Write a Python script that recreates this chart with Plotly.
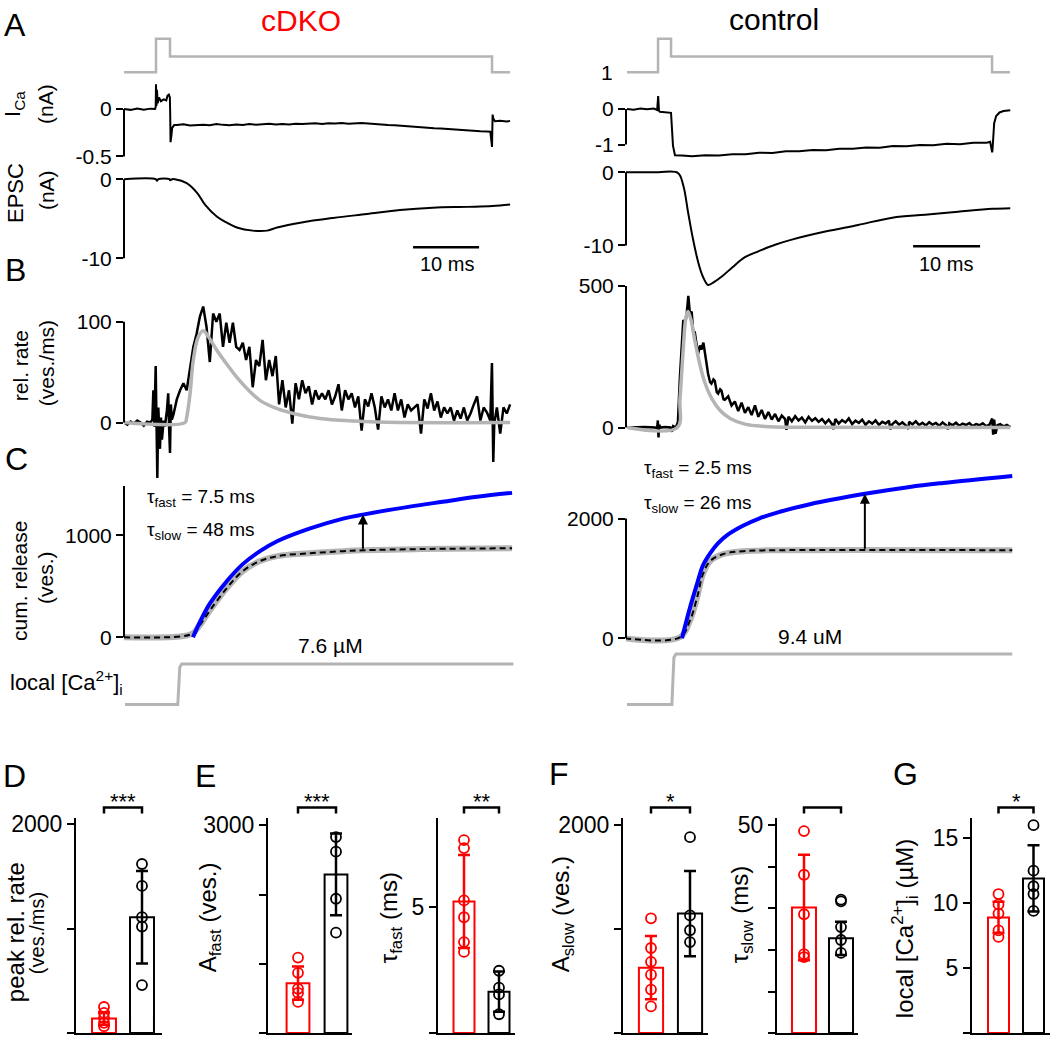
import plotly.graph_objects as go

W, H = 1050, 1046
FONT = "Liberation Sans, Arial, Helvetica, sans-serif"
RED = "#ff0000"
GRAY = "#b4b4b4"
BLUE = "#0000ff"
BLACK = "#000000"

# ---------------- data ----------------
# stimulus waveforms (arbitrary units)
stim_t_L = [0, 4.85, 4.85, 6.97, 6.97, 55.76, 55.76, 58.5]
stim_v_L = [0, 0, 1, 1, 0.47, 0.47, 0, 0]
stim_t_R = [0.3, 4.93, 4.93, 6.87, 6.87, 54.78, 54.78, 57.46]
stim_v_R = [0, 0, 1, 1, 0.47, 0.47, 0, 0]

# I_Ca (nA)
ica_t_L = ([0, 1, 2, 3, 4, 4.7, 4.8, 4.85, 4.92, 5.0, 5.1, 5.3, 5.6, 6.0, 6.4, 6.6, 6.8, 6.95, 7.0, 7.05, 7.15, 7.3, 7.6]
           + [8, 9, 10, 11, 12, 13, 14, 15, 16, 17, 18, 19, 20, 21, 22, 23, 24, 25, 26, 27, 28, 29, 30, 31,
              32, 33, 34, 35, 36, 37, 38, 39, 40, 41, 42, 43, 44, 45, 46, 47, 48, 49, 50, 51, 52, 53, 54, 55]
           + [55.5, 55.76, 55.85, 55.95, 56.2, 57, 58, 58.5])
ica_v_L = ([0, -0.01, 0.005, -0.008, 0.003, 0, 0.02, 0.26, 0.03, 0.2, 0.06, 0.12, 0.08, 0.1, 0.09, 0.14, 0.15, 0.12, -0.05, -0.35, -0.3, -0.2, -0.17]
           + [-0.17, -0.162, -0.175, -0.168, -0.166, -0.172, -0.16, -0.168, -0.171, -0.163,
              -0.169, -0.158, -0.166, -0.161, -0.157, -0.165, -0.159, -0.163, -0.155, -0.16,
              -0.157, -0.152, -0.158, -0.15, -0.154, -0.149, -0.155, -0.151, -0.147, -0.153,
              -0.16, -0.164, -0.17, -0.172, -0.178, -0.183, -0.186, -0.193, -0.196, -0.203,
              -0.205, -0.211, -0.216, -0.219, -0.225, -0.229, -0.236, -0.238]
           + [-0.24, -0.40, -0.06, -0.10, -0.13, -0.125, -0.133, -0.126])
ica_t_R = [0.3, 1.3, 2.3, 3.3, 4.3, 4.8, 4.95, 5.07, 5.2, 6.0, 6.87, 7.16, 7.46, 8.5, 10, 12, 14, 16, 18, 20,
           22, 24, 26, 28, 30, 32, 34, 36, 38, 40, 42, 44, 46, 48, 50, 52, 54, 54.5, 54.8, 54.85,
           54.95, 55.1, 55.4, 55.9, 56.5, 57.5]
ica_v_R = [0, -0.02, 0.01, -0.01, 0.01, -0.03, 0.36, -0.05, -0.08, -0.09, -0.11, -1.03, -1.3, -1.31, -1.33,
           -1.3, -1.31, -1.27, -1.27, -1.23, -1.24, -1.19, -1.19, -1.15, -1.16, -1.12, -1.12, -1.08, -1.09,
           -1.04, -1.05, -1.01, -1.02, -0.98, -0.99, -0.95, -0.95, -0.92, -1.22, -1.15, -0.7, -0.4, -0.2,
           -0.1, -0.06, -0.04]

# EPSC (nA)
epsc_t_L = [0, 4.8, 5.0, 5.2, 6.9, 7.0, 7.3, 7.7, 9.5, 11.1, 12.3, 14.1, 15.6, 17.1, 19.5, 21.7, 23.2,
            26.7, 31.7, 36.8, 41.8, 46.8, 52.0, 55.8, 58.5]
epsc_v_L = [0, 0, -0.2, 0, 0, -0.15, 0, 0, -0.5, -1.75, -3.25, -4.75, -5.5, -6.1, -6.5, -6.5, -6.1,
            -5.5, -4.9, -4.4, -3.9, -3.6, -3.5, -3.4, -3.2]
epsc_t_R = [0, 4.9, 7.9, 8.7, 9.4, 10.1, 10.9, 11.6, 12.4, 13.1, 14.5, 16.0, 17.9, 19.9, 22.4, 24.9,
            29.9, 34.8, 39.9, 44.8, 49.7, 54.8, 57.5]
epsc_v_R = [0, 0, -0.1, -1.8, -5.4, -8.9, -12.2, -14.2, -15.4, -15.1, -14.2, -13.0, -11.6, -10.8, -9.9,
            -9.2, -8.1, -7.2, -6.2, -5.8, -5.4, -5.0, -4.9]

# release rate (ves./ms)
rate_t_L = ([0, 0.5, 1.0, 1.5, 2.0, 2.5, 3.0, 3.5, 4.0, 4.3, 4.45, 4.6, 4.8, 4.95, 5.05, 5.2, 5.45, 5.6,
             5.75, 6.0, 6.2, 6.5, 6.7, 6.85, 6.97, 7.1, 7.25]
            + [7.5, 8.0, 8.5, 9.0, 9.5, 10.0, 10.5, 11.0, 11.5, 12.0,
               12.5, 13.0, 13.5, 14.0, 14.5, 15.0, 15.5, 16.0, 16.5, 17.0,
               17.5, 18.0, 18.5, 19.0, 19.5, 20.0, 20.5, 21.0, 21.5, 22.0,
               22.5, 23.0, 23.5, 24.0, 24.5, 25.0, 25.5, 26.0, 26.5, 27.0,
               27.5, 28.0, 28.5, 29.0, 29.5, 30.0, 30.5, 31.0, 31.5, 32.0,
               32.5, 33.0, 33.5, 34.0, 34.5, 35.0, 35.5, 36.0, 36.5, 37.0,
               37.5, 38.0, 38.5, 39.0, 39.5, 40.0, 40.5, 41.0, 41.5, 42.0,
               42.5, 43.0, 43.5, 44.0, 44.5, 45.0, 45.5, 46.0, 46.5, 47.0,
               47.5, 48.0, 48.5, 49.0, 49.5, 50.0, 50.5, 51.0, 51.5, 52.0,
               52.5, 53.0, 53.5, 54.0, 54.5, 55.0, 55.5]
            + [55.75, 55.95, 56.1, 56.5, 57.0, 57.5, 58.0, 58.5])
rate_v_L = ([0, -2, 1, -1, 2, 0, -3, 1, 0, 3, 32, -4, 56, 8, -55, 15, -26, 5, -17, 2, -4, 12, 29, -8, -30, 18, 3]
            + [8, 23, 32, 39, 32, 52, 75, 88, 105, 115,
               95, 60, 108, 100, 108, 75, 99, 79, 99, 75,
               72, 79, 62, 75, 35, 62, 56, 82, 42, 62,
               46, 66, 18, 42, 15, 32, -1, 39, 23, 42,
               29, 36, 18, 32, 23, 29, 23, 32, 18, 26,
               38, 12, 32, 23, 29, 15, 26, -8, 23, 16,
               29, 15, -7, 26, 15, 23, 12, 29, 12, 23,
               5, 18, 12, 15, 18, -11, 23, 14, 29, 12,
               21, 5, 15, 9, 15, 2, 12, 4, 15, 2,
               9, 18, 26, 2, 15, 10, 2]
            + [59, -39, -1, 15, -11, 15, 9, 18])
fit_t_L = [0, 9.24, 9.49, 10.0, 10.5, 11.26, 12.02, 12.78, 14.04, 15.56, 17.07, 18.59, 20.6, 23.1, 25.66,
           29.7, 34.8, 39.8, 58.5]
fit_v_L = [0, 0, 5, 28, 62, 85, 91, 85, 72, 58, 45, 34, 22, 14, 9, 4, 1.5, 0.3, 0]

rate_t_R = ([0.3, 1.5, 3.0, 4.5, 4.8, 4.9, 5.0, 5.1, 5.3, 6.0, 6.8, 7.0, 7.2, 7.6, 7.9, 8.2, 8.5, 8.7, 9.0,
             9.2, 9.45, 9.7, 9.95, 10.2, 10.4, 10.7, 10.9, 11.2, 11.4, 11.7, 11.9, 12.2, 12.4, 12.7, 12.9,
             13.2, 13.4, 13.7, 13.9, 14.2, 14.4, 14.7, 14.9]
            + [15.4, 15.9, 16.4, 16.9, 17.4, 17.9, 18.4, 18.9, 19.4, 19.9,
               20.4, 20.9, 21.4, 21.9, 22.4, 22.9, 23.4, 23.9, 24.1, 24.4,
               24.9, 25.4, 25.9, 26.4, 26.9, 27.4, 27.9, 28.4, 28.9, 29.4,
               29.9, 30.4, 30.9, 31.1, 31.4, 31.9, 32.4, 32.9, 33.4, 33.9,
               34.4, 34.9, 35.4, 35.9, 36.4, 36.9, 37.4, 37.9, 38.4, 38.9,
               39.4, 39.6, 39.9, 40.4, 40.9, 41.4, 41.9, 42.3, 42.4, 42.9,
               43.4, 43.9, 44.4, 44.9, 45.4, 45.9, 46.4, 46.9, 47.4, 47.9,
               48.2, 48.4, 48.9, 49.4, 49.9, 50.4, 50.9, 51.4, 51.9, 52.4,
               52.9, 53.4, 53.9, 54.4, 54.8, 54.95, 55.1, 55.3, 55.6, 56.0,
               56.5, 57.0, 57.5])
rate_v_R = ([0, 1, 2, 0, -2, 25, -35, 10, 0, 2, 0, -15, 5, 0, 20, 180, 330, 380, 370, 400, 465, 400, 410,
             330, 340, 280, 260, 290, 275, 300, 270, 210, 190, 160, 155, 170, 165, 125, 120, 135, 130, 100, 98]
            + [110, 78, 92, 58, 88, 52, 72, 44, 78, 38,
               62, 30, 55, 28, 48, 22, 42, 30, -8, 38,
               22, 40, 25, 35, 18, 38, 24, 33, 20, 30,
               15, 28, 12, -6, 30, 14, 26, 18, 32, 12,
               24, 16, 28, 10, 22, 14, 25, 9, 20, 14,
               24, -6, 12, 22, 10, 18, 8, -5, 20, 11,
               22, 9, 17, 7, 19, 10, 16, 6, 18, 9,
               -6, 15, 8, 17, 6, 14, 9, 16, 5, 12,
               8, 15, 5, 10, 32, -25, 28, -22, 8, 12,
               4, 9, 2])
fit_t_R = [0.3, 7.8, 8.2, 8.7, 9.1, 9.4, 9.85, 10.4, 11.2, 11.9, 13.0, 14.2, 15.7, 17.9, 20.9, 26.1, 57.5]
fit_v_R = [0, 0, 100, 280, 390, 410, 380, 310, 220, 160, 100, 60, 32, 12, 4, 1, 0]

# cumulative release (ves.)
cum_t_L = [10.45, 11.5, 13.0, 15.6, 18.0, 20.6, 23.2, 28.2, 33.2, 36.2, 43.3, 48.3, 53.5, 58.8]
cum_v_L = [0, 150, 330, 553, 718, 845, 942, 1068, 1165, 1204, 1282, 1330, 1379, 1417]
cumfit_t_L = [0, 8.8, 10.45, 11.5, 13.0, 15.6, 18.0, 20.6, 23.2, 28.2, 33.2, 36.2, 45.0, 58.8]
cumfit_v_L = [0, 10, 40, 120, 262, 485, 650, 748, 796, 825, 845, 854, 866, 874]
cum_t_R = [8.5, 9.7, 10.75, 11.64, 12.7, 13.9, 15.2, 17.6, 20.0, 22.7, 27.6, 35.8, 42.5, 47.5, 57.8]
cum_v_R = [0, 512, 909, 1220, 1420, 1590, 1720, 1880, 2000, 2100, 2240, 2413, 2529, 2595, 2711]
cumfit_t_R = [0, 8.2, 9.7, 10.75, 11.64, 12.7, 14.6, 17.6, 22.7, 57.8]
cumfit_v_R = [0, 17, 298, 678, 1074, 1289, 1405, 1455, 1471, 1471]
arrow_t_L, arrow_lo_L, arrow_hi_L = 36.2, 854, 1204
arrow_t_R, arrow_lo_R, arrow_hi_R = 35.8, 1471, 2413

# local [Ca2+]i (uM)
ca_t_L = [0.15, 8.15, 8.3, 8.45, 8.75, 59.0]
ca_v_L = [0, 0, 3.5, 7.0, 7.6, 7.6]
ca_t_R = [0.3, 7.0, 7.15, 7.3, 7.6, 57.8]
ca_v_R = [0, 0, 4.5, 8.8, 9.4, 9.4]

# summary panels: [cDKO, control]
peak_mean = [139, 1109]
peak_sd = [60, 443]
peak_cdko = [250, 193, 145, 98, 66]
peak_ctrl = [1620, 1410, 1110, 1020, 460]

afast_mean = [720, 2290]
afast_sd = [240, 590]
afast_cdko = [1090, 870, 640, 580, 450]
afast_ctrl = [2830, 2620, 1940, 1450]

tfast_mean = [5.24, 1.65]
tfast_sd = [1.85, 0.8]
tfast_cdko = [7.68, 7.36, 5.28, 4.61, 3.62, 3.23]
tfast_ctrl = [2.48, 1.81, 1.54, 0.75]

aslow_mean = [630, 1150]
aslow_sd = [305, 410]
aslow_cdko = [1105, 819, 686, 562, 419, 257]
aslow_ctrl = [1886, 1133, 990, 876]

tslow_mean = [30.2, 22.8]
tslow_sd = [12.7, 4.0]
tslow_cdko = [48.6, 38.1, 28.6, 19.0, 18.3]
tslow_ctrl = [32.1, 31.7, 25.5, 22.4, 19.3]

ca_mean = [8.9, 11.9]
ca_sd = [1.2, 2.55]
ca_cdko = [10.7, 9.9, 9.2, 7.9, 7.4]
ca_ctrl = [16.0, 12.5, 11.3, 10.7, 9.4]

# ---------------- figure ----------------
fig = go.Figure()
axes_layout = {}
shapes = []
annotations = []
_n = [0]


def lin(pa, pb, cal):
    v1, p1, v2, p2 = cal
    s = (v2 - v1) / (p2 - p1)
    return [v1 + (pa - p1) * s, v1 + (pb - p1) * s]


def panel(xpx, ypx, xcal, ycal):
    _n[0] += 1
    k = _n[0]
    s = "" if k == 1 else str(k)
    axes_layout["xaxis" + s] = dict(domain=[xpx[0] / W, xpx[1] / W], range=lin(xpx[0], xpx[1], xcal),
                                    anchor="y" + s, visible=False, fixedrange=True,
                                    showgrid=False, zeroline=False)
    axes_layout["yaxis" + s] = dict(domain=[1 - ypx[1] / H, 1 - ypx[0] / H], range=lin(ypx[1], ypx[0], ycal),
                                    anchor="x" + s, visible=False, fixedrange=True,
                                    showgrid=False, zeroline=False)
    return "x" + s, "y" + s, s


def set_yticks(s, vals, texts, size=21):
    axes_layout["yaxis" + s].update(visible=True, showline=False, ticks="outside", ticklen=7, tickwidth=2,
                                    tickcolor=BLACK, tickvals=vals, ticktext=texts,
                                    tickfont=dict(size=size, color=BLACK, family=FONT))


def axis_line(xr, yr, y0, y1):
    shapes.append(dict(type="line", xref=xr + " domain", yref=yr, x0=0, x1=0, y0=y0, y1=y1,
                       line=dict(color=BLACK, width=2)))


def trace(xr, yr, t, v, color, width, dash=None, shape="linear"):
    ln = dict(color=color, width=width, shape=shape)
    if dash:
        ln["dash"] = dash
    fig.add_trace(go.Scatter(x=t, y=v, xaxis=xr, yaxis=yr, mode="lines", line=ln, hoverinfo="skip"))


def ann(text, xp, yp, size, angle=0, color=BLACK, xanchor="center", yanchor="middle"):
    annotations.append(dict(text=text, x=xp / W, y=1 - yp / H, xref="paper", yref="paper", showarrow=False,
                            textangle=angle, xanchor=xanchor, yanchor=yanchor,
                            font=dict(size=size, color=color, family=FONT)))


XL = (0, 124, 10, 190)
XR = (0, 625, 10, 692)
XPL = (124, 516)
XPR = (626, 1014)

# ---- left column (cDKO) ----
xr, yr, s = panel(XPL, (26, 72), XL, (0, 66, 1, 32))
trace(xr, yr, stim_t_L, stim_v_L, GRAY, 2.5)

xr, yr, s = panel(XPL, (72, 158), XL, (0, 103, -0.5, 151))
trace(xr, yr, ica_t_L, ica_v_L, BLACK, 2)
set_yticks(s, [0, -0.5], ["0", "-0.5"])
axis_line(xr, yr, -0.5, 0)

xr, yr, s = panel(XPL, (165, 262), XL, (0, 174, -10, 254))
trace(xr, yr, epsc_t_L, epsc_v_L, BLACK, 2, shape="spline")
set_yticks(s, [0, -10], ["0", "-10"])
axis_line(xr, yr, -10, 0)
shapes.append(dict(type="line", xref=xr, yref=yr, x0=43.8, x1=53.8, y0=-8.6, y1=-8.6,
                   line=dict(color=BLACK, width=2.5)))

xr, yr, s = panel(XPL, (295, 482), XL, (0, 420, 100, 318))
trace(xr, yr, rate_t_L, rate_v_L, BLACK, 2.5)
trace(xr, yr, fit_t_L, fit_v_L, GRAY, 3.5, shape="spline")
set_yticks(s, [0, 100], ["0", "100"])
axis_line(xr, yr, 0, 100)

xr, yr, s = panel(XPL, (480, 648), XL, (0, 637, 1000, 534))
trace(xr, yr, cumfit_t_L, cumfit_v_L, GRAY, 6, shape="spline")
trace(xr, yr, cumfit_t_L, cumfit_v_L, BLACK, 2, dash="6px,4px", shape="spline")
trace(xr, yr, cum_t_L, cum_v_L, BLUE, 4, shape="spline")
set_yticks(s, [0, 1000], ["0", "1000"])
axis_line(xr, yr, 0, 1485)
annotations.append(dict(x=arrow_t_L, y=arrow_hi_L, ax=arrow_t_L, ay=arrow_lo_L, xref=xr, yref=yr,
                        axref=xr, ayref=yr, text="", showarrow=True, arrowhead=2, arrowsize=1,
                        arrowwidth=2, arrowcolor=BLACK, standoff=0))

xr, yr, s = panel(XPL, (648, 712), XL, (0, 705, 7.6, 664))
trace(xr, yr, ca_t_L, ca_v_L, GRAY, 3)

# ---- right column (control) ----
xr, yr, s = panel(XPR, (26, 72), XR, (0, 66, 1, 32))
trace(xr, yr, stim_t_R, stim_v_R, GRAY, 2.5)

xr, yr, s = panel(XPR, (72, 158), XR, (0, 103, -1, 139))
trace(xr, yr, ica_t_R, ica_v_R, BLACK, 2)
set_yticks(s, [0, -1], ["0", "-1"])
axis_line(xr, yr, -1, 0)

xr, yr, s = panel(XPR, (160, 290), XR, (0, 167, -10, 241))
trace(xr, yr, epsc_t_R, epsc_v_R, BLACK, 2, shape="spline")
set_yticks(s, [0, -10], ["0", "-10"])
axis_line(xr, yr, -10, 0)
shapes.append(dict(type="line", xref=xr, yref=yr, x0=43.0, x1=53.0, y0=-10.1, y1=-10.1,
                   line=dict(color=BLACK, width=2.5)))

xr, yr, s = panel(XPR, (275, 445), XR, (0, 425, 500, 282))
trace(xr, yr, rate_t_R, rate_v_R, BLACK, 2.5)
trace(xr, yr, fit_t_R, fit_v_R, GRAY, 3.5, shape="spline")
set_yticks(s, [0, 500], ["0", "500"])
axis_line(xr, yr, 0, 500)

xr, yr, s = panel(XPR, (450, 648), XR, (0, 638, 2000, 517))
trace(xr, yr, cumfit_t_R, cumfit_v_R, GRAY, 6, shape="spline")
trace(xr, yr, cumfit_t_R, cumfit_v_R, BLACK, 2, dash="6px,4px", shape="spline")
trace(xr, yr, cum_t_R, cum_v_R, BLUE, 4, shape="spline")
set_yticks(s, [0, 2000], ["0", "2000"])
axis_line(xr, yr, 0, 2000)
annotations.append(dict(x=arrow_t_R, y=arrow_hi_R, ax=arrow_t_R, ay=arrow_lo_R, xref=xr, yref=yr,
                        axref=xr, ayref=yr, text="", showarrow=True, arrowhead=2, arrowsize=1,
                        arrowwidth=2, arrowcolor=BLACK, standoff=0))

xr, yr, s = panel(XPR, (640, 712), XR, (0, 705, 9.4, 654))
trace(xr, yr, ca_t_R, ca_v_R, GRAY, 3)


# ---- summary bar panels ----
def bottom(xpx, xcal, ycal, tv, tt, means, sds, pts_r, pts_b, bw, stars):
    xr, yr, s = panel(xpx, (820, 1037), xcal, ycal)
    axes_layout["xaxis" + s].update(visible=True, showline=True, linewidth=2, linecolor=BLACK,
                                    ticks="", showticklabels=False)
    axes_layout["yaxis" + s].update(visible=True, showline=True, linewidth=2, linecolor=BLACK,
                                    ticks="outside", ticklen=7, tickwidth=2, tickcolor=BLACK,
                                    tickvals=tv, ticktext=tt,
                                    tickfont=dict(size=23, family=FONT, color=BLACK))
    for pos, pts, col in ((0, pts_r, RED), (1, pts_b, BLACK)):
        fig.add_trace(go.Bar(x=[pos], y=[means[pos]], width=[bw], xaxis=xr, yaxis=yr,
                             marker=dict(color="white", line=dict(color=col, width=2)),
                             error_y=dict(type="data", array=[sds[pos]], color=col, thickness=2.5, width=6),
                             hoverinfo="skip"))
        fig.add_trace(go.Scatter(x=[pos] * len(pts), y=pts, xaxis=xr, yaxis=yr, mode="markers",
                                 marker=dict(symbol="circle-open", size=10, color=col, line=dict(width=1.8)),
                                 cliponaxis=False, hoverinfo="skip"))
    y1, y2 = 1 - 809 / H, 1 - 815 / H
    shapes.append(dict(type="path", xref=xr, yref="paper",
                       path=f"M 0,{y2} L 0,{y1} L 1,{y1} L 1,{y2}",
                       line=dict(color=BLACK, width=2.5)))
    if stars:
        annotations.append(dict(text=stars, x=0.5, y=1 - 803 / H, xref=xr, yref="paper", showarrow=False,
                                xanchor="center", yanchor="middle",
                                font=dict(size=22, color=BLACK, family=FONT)))


bottom((76, 162), (0, 104, 1, 142), (0, 1037, 2000, 826), [0, 1000, 2000], ["0", "", "2000"],
       peak_mean, peak_sd, peak_cdko, peak_ctrl, 0.63, "***")
bottom((268, 352), (0, 298, 1, 336), (0, 1037, 3000, 827), [0, 1000, 2000, 3000], ["0", "", "", "3000"],
       afast_mean, afast_sd, afast_cdko, afast_ctrl, 0.6, "***")
bottom((438, 515), (0, 464, 1, 499), (0, 1037, 5, 910), [0, 5], ["0", "5"],
       tfast_mean, tfast_sd, tfast_cdko, tfast_ctrl, 0.6, "**")
bottom((623, 708), (0, 651, 1, 690), (0, 1037, 2000, 827), [0, 1000, 2000], ["0", "", "2000"],
       aslow_mean, aslow_sd, aslow_cdko, aslow_ctrl, 0.62, "*")
bottom((777, 858), (0, 804, 1, 841), (0, 1037, 50, 827), [0, 10, 20, 30, 40, 50], ["0", "", "", "", "", "50"],
       tslow_mean, tslow_sd, tslow_cdko, tslow_ctrl, 0.65, "")
bottom((972, 1050), (0, 998.5, 1, 1033.5), (0, 1037, 15, 840), [0, 5, 10, 15], ["0", "5", "10", "15"],
       ca_mean, ca_sd, ca_cdko, ca_ctrl, 0.6, "*")

# ---- text ----
ann("A", 15, 18, 32)
ann("B", 15, 266, 32)
ann("C", 16, 457, 32)
ann("D", 14, 777, 32)
ann("E", 205, 777, 32)
ann("F", 559, 775, 32)
ann("G", 905, 775, 32)
ann("cDKO", 301, 14, 30, color=RED)
ann("control", 774, 13, 30)
ann("1", 607, 66, 21)

ann("I<sub>Ca</sub>", 14, 98, 22, angle=-90)
ann("(nA)", 46, 98, 21, angle=-90)
ann("EPSC", 15, 188, 22, angle=-90)
ann("(nA)", 46, 185, 21, angle=-90)
ann("rel. rate", 20, 363, 21, angle=-90)
ann("(ves./ms)", 46, 360, 21, angle=-90)
ann("cum. release", 20, 580, 21, angle=-90)
ann("(ves.)", 46, 577, 21, angle=-90)
ann("local [Ca<sup>2+</sup>]<sub>i</sub>", 8, 683, 22, xanchor="left")

ann("10 ms", 447, 260, 20)
ann("10 ms", 946, 260, 20)
ann("τ<sub>fast</sub> = 7.5 ms", 145, 496, 19, xanchor="left")
ann("τ<sub>slow</sub> = 48 ms", 145, 530, 19, xanchor="left")
ann("τ<sub>fast</sub> = 2.5 ms", 642, 467, 19, xanchor="left")
ann("τ<sub>slow</sub> = 26 ms", 642, 502, 19, xanchor="left")
ann("7.6 µM", 330, 645, 21)
ann("9.4 uM", 810, 636, 21)

ann("peak rel. rate", 15, 935, 24, angle=-90)
ann("(ves./ms)", 37, 936, 20, angle=-90)
ann("A<sub>fast</sub> (ves.)", 209, 920, 24, angle=-90)
ann("τ<sub>fast</sub> (ms)", 390, 921, 24, angle=-90)
ann("A<sub>slow</sub> (ves.)", 562, 917, 24, angle=-90)
ann("τ<sub>slow</sub> (ms)", 741, 917, 24, angle=-90)
ann("local [Ca<sup>2+</sup>]<sub>i</sub> (µM)", 905, 932, 24, angle=-90)

fig.update_layout(width=W, height=H, margin=dict(l=0, r=0, t=0, b=0), paper_bgcolor="white",
                  plot_bgcolor="rgba(0,0,0,0)", showlegend=False, hovermode=False, barmode="overlay",
                  font=dict(family=FONT, color=BLACK), shapes=shapes, annotations=annotations,
                  **axes_layout)

fig.write_html("out.html", include_plotlyjs=True, config={"displayModeBar": False, "staticPlot": True})

# remove default page margins so the figure starts at the window's top-left corner
with open("out.html", "r", encoding="utf-8") as fh:
    html = fh.read()
html = html.replace("<head>", "<head><style>html,body{margin:0;padding:0;overflow:hidden;}</style>", 1)
with open("out.html", "w", encoding="utf-8") as fh:
    fh.write(html)
